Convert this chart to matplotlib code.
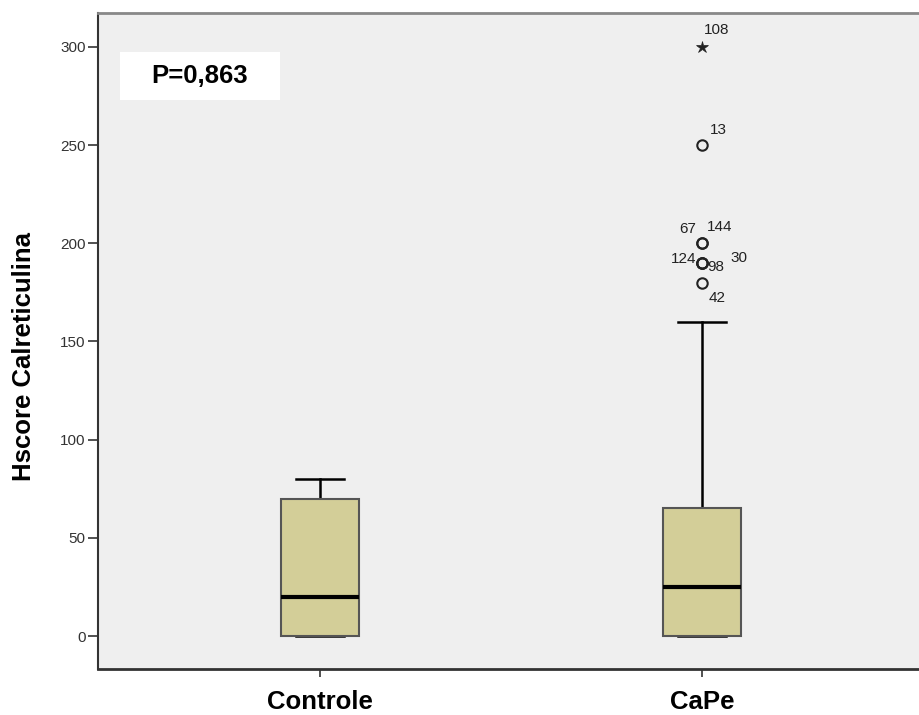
import matplotlib
matplotlib.use("Agg")
import matplotlib.pyplot as plt
from matplotlib.patches import Rectangle

plt.rcParams['font.family'] = ['Liberation Sans', 'DejaVu Sans']

# groups and box statistics
groups = ["Controle", "CaPe"]
whislo = [0, 0]
q1 = [0, 0]
med = [20, 25]
q3 = [70, 65]
whishi = [80, 160]

# outliers of CaPe: value, case id, marker kind
out_vals = [300, 250, 200, 200, 190, 190, 190, 180]
out_ids = ["108", "13", "67", "144", "124", "98", "30", "42"]
out_extreme = [True, False, False, False, False, False, False, False]

y_ticks = [0, 50, 100, 150, 200, 250, 300]

# label offsets in pixels (layout only)
lab_off = [(15, 17), (16, 15), (-14, 14), (18, 16), (-18, 4), (14, -4), (37, 5), (15, -15)]

fig = plt.figure(figsize=(9.2, 7.15), dpi=100)
ax = fig.add_axes([98 / 920, 46 / 715, 822 / 920, 656 / 715])
ax.set_facecolor('#efefef')

stats = []
for i, g in enumerate(groups):
    stats.append(dict(label=g, whislo=whislo[i], q1=q1[i], med=med[i],
                      q3=q3[i], whishi=whishi[i], fliers=[]))

bp = ax.bxp(stats, positions=[1, 2], widths=0.204, patch_artist=True,
            showfliers=False,
            boxprops=dict(facecolor='#d3ce98', edgecolor='#555555', linewidth=1.5),
            medianprops=dict(color='black', linewidth=3),
            whiskerprops=dict(color='black', linewidth=1.8),
            capprops=dict(color='black', linewidth=1.8),
            capwidths=0.125)
for b in bp['boxes']:
    b.set_zorder(3)
for m in bp['medians']:
    m.set_zorder(4)
for c in bp['caps']:
    c.set_zorder(1)

# outliers
for v, lab, ext, off in zip(out_vals, out_ids, out_extreme, lab_off):
    if ext:
        ax.plot(2, v, marker='*', ms=9, color='#222222', mew=0.5)
    else:
        ax.plot(2, v, marker='o', ms=7.5, mfc='none', mec='#222222', mew=1.5)
    ax.annotate(lab, (2, v), xytext=off, textcoords='offset pixels',
                ha='center', va='center', fontsize=11, color='#222222')

ax.set_xlim(0.419, 2.571)
ax.set_ylim(-16.8, 317.3)
ax.set_yticks(y_ticks)
ax.set_yticklabels([str(t) for t in y_ticks], fontsize=11, color='#333333')
ax.set_xticks([1, 2])
ax.set_xticklabels(groups, fontsize=18.5, fontweight='bold')
ax.tick_params(axis='x', length=6, width=1.2, color='#333333', pad=9)
ax.tick_params(axis='y', length=7.5, width=1.2, color='#333333', pad=1.5)

ax.spines['right'].set_visible(False)
ax.spines['left'].set_color('#333333')
ax.spines['left'].set_linewidth(1.5)
ax.spines['bottom'].set_color('#333333')
ax.spines['bottom'].set_linewidth(2)
ax.spines['top'].set_color('#888888')
ax.spines['top'].set_linewidth(2)

ax.set_ylabel("Hscore Calreticulina", fontsize=18.5, fontweight='bold')
ax.yaxis.set_label_coords(-0.075, 0.477)

# p-value box
ax.add_patch(Rectangle((0.0268, 0.867), 0.1946, 0.0735, transform=ax.transAxes,
                       facecolor='white', edgecolor='none', zorder=5))
ax.text(0.124, 0.904, "P=0,863", transform=ax.transAxes, fontsize=18.5,
        fontweight='bold', ha='center', va='center', zorder=6)

fig.savefig("out.png", dpi=100)
